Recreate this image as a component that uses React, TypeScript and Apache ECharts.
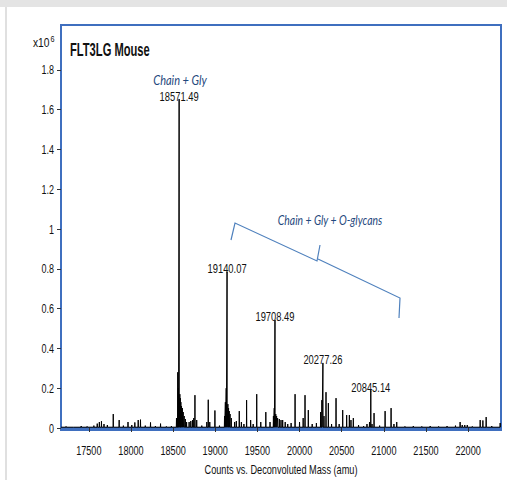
import React, { useEffect, useRef } from "react";
import * as echarts from "echarts";

// ---- data (y in units of 1e6 counts) ----
const peakMasses = [
  17230, 17320, 17410, 17480, 17560, 17600, 17625, 17650, 17680, 17720, 17790, 17860, 17910, 17965,
  18010, 18046, 18086, 18113, 18170, 18232, 18290, 18351, 18420, 18480,
  18540, 18555, 18562, 18580, 18586, 18592, 18600, 18610, 18620, 18632, 18645, 18660,
  18690, 18710, 18730, 18745, 18759, 18780, 18840, 18900, 18917, 18935, 18996, 19050,
  19110, 19120, 19130, 19150, 19158, 19166, 19176, 19190, 19230, 19250, 19285, 19310, 19340,
  19372, 19420, 19450, 19492, 19540, 19600, 19650, 19690, 19700,
  19718, 19728, 19740, 19760, 19780, 19800, 19830, 19860, 19900, 19947, 20000, 20043, 20065, 20104,
  20150, 20200, 20250, 20265, 20290, 20314, 20342, 20380, 20433, 20470, 20512, 20559, 20591, 20610, 20638,
  20700, 20760, 20800, 20830, 20860, 20884, 20950, 21015, 21086, 21120, 21153, 21250, 21350, 21450,
  21550, 21650, 21750, 21850, 21905, 21930, 21960, 21990, 22050, 22143, 22175, 22214, 22280, 22380,
];
const peakHeights = [
  0.008, 0.006, 0.01, 0.008, 0.012, 0.022, 0.03, 0.034, 0.02, 0.015, 0.07, 0.04, 0.012, 0.03,
  0.015, 0.028, 0.04, 0.042, 0.012, 0.028, 0.01, 0.022, 0.008, 0.01,
  0.05, 0.28, 0.2, 0.17, 0.15, 0.13, 0.11, 0.1, 0.08, 0.06, 0.045, 0.03,
  0.03, 0.035, 0.04, 0.05, 0.165, 0.04, 0.012, 0.03, 0.142, 0.03, 0.088, 0.012,
  0.06, 0.13, 0.2, 0.12, 0.1, 0.085, 0.07, 0.05, 0.03, 0.035, 0.085, 0.03, 0.02,
  0.14, 0.04, 0.02, 0.17, 0.03, 0.08, 0.03, 0.06, 0.1,
  0.07, 0.06, 0.05, 0.045, 0.04, 0.04, 0.03, 0.02, 0.025, 0.17, 0.03, 0.05, 0.165, 0.09,
  0.02, 0.025, 0.08, 0.14, 0.06, 0.18, 0.125, 0.02, 0.15, 0.02, 0.09, 0.065, 0.065, 0.04, 0.05,
  0.015, 0.01, 0.02, 0.03, 0.02, 0.075, 0.012, 0.085, 0.1, 0.02, 0.03, 0.008, 0.01, 0.008,
  0.01, 0.008, 0.01, 0.012, 0.03, 0.015, 0.015, 0.015, 0.008, 0.04, 0.038, 0.055, 0.01, 0.025,
];
const labeledMasses = [18571.49, 19140.07, 19708.49, 20277.26, 20845.14];
const labeledHeights = [1.653, 0.785, 0.543, 0.327, 0.19];
const xTicks = [17500, 18000, 18500, 19000, 19500, 20000, 20500, 21000, 21500, 22000];
const yTicks = [0, 0.2, 0.4, 0.6, 0.8, 1, 1.2, 1.4, 1.6, 1.8];
const baseline = 0.004;

const SANS = '"Liberation Sans", Arial, sans-serif';
const BLUE_FRAME = "#3f6fbf";
const ANNOT_TEXT = "#1f497d";
const ANNOT_LINE = "#4f81bd";

function buildSpectrum(): number[][] {
  const all: number[][] = [];
  peakMasses.forEach((m, i) => all.push([m, peakHeights[i]]));
  labeledMasses.forEach((m, i) => all.push([m, labeledHeights[i]]));
  all.sort((a, b) => a[0] - b[0]);
  const out: number[][] = [[17170, baseline]];
  all.forEach(([m, h]) => {
    out.push([m - 2, baseline]);
    out.push([m, h]);
    out.push([m + 2, baseline]);
  });
  out.push([22390, baseline]);
  return out;
}

function txt(x: number, y: number, text: string, font: string, fill: string, align: string, sx: number) {
  return {
    type: "text",
    x,
    y,
    scaleX: sx,
    silent: true,
    z: 10,
    style: { text, font, fill, textAlign: align, textVerticalAlign: "middle" },
  };
}

export default function App() {
  const ref = useRef<HTMLDivElement>(null);
  useEffect(() => {
    if (!ref.current) return;
    const chart = echarts.init(ref.current, undefined, { renderer: "svg" });
    chart.setOption({
      animation: false,
      backgroundColor: "#ffffff",
      grid: {
        left: 61,
        right: 6,
        top: 25,
        bottom: 52,
        show: true,
        borderColor: BLUE_FRAME,
        borderWidth: 2,
        backgroundColor: "transparent",
      },
      xAxis: {
        type: "value",
        min: 17170,
        max: 22390,
        axisLine: { show: false },
        splitLine: { show: false },
        axisTick: { show: true, length: 4, lineStyle: { color: "#333" }, customValues: xTicks },
        axisLabel: { show: false },
      },
      yAxis: {
        type: "value",
        min: 0,
        max: 2.025,
        splitLine: { show: false },
        axisLine: { show: false },
        axisTick: { show: true, length: 4, lineStyle: { color: "#333" }, customValues: yTicks },
        axisLabel: { show: false },
      },
      series: [
        {
          type: "line",
          data: buildSpectrum(),
          showSymbol: false,
          symbol: "none",
          lineStyle: { color: "#000", width: 1 },
          silent: true,
          z: 3,
        },
      ],
    });

    const toPx = (v: number[]) => chart.convertToPixel({ gridIndex: 0 }, v) as number[];
    const y0 = toPx([17170, 0])[1];
    const graphics: any[] = [
      { type: "rect", shape: { x: 0, y: 0, width: 507, height: 7 }, style: { fill: "#e4e4e4" }, silent: true },
      { type: "rect", shape: { x: 5, y: 7, width: 2, height: 473 }, style: { fill: "#e0e0e0" }, silent: true },
      { type: "rect", shape: { x: 60, y: y0 + 1, width: 442, height: 2 }, style: { fill: BLUE_FRAME }, silent: true },
    ];
    // x tick labels
    xTicks.forEach((v) => {
      const p = toPx([v, 0]);
      graphics.push(txt(p[0], y0 + 22, String(v), "13px " + SANS, "#111", "center", 0.7));
    });
    // y tick labels
    yTicks.forEach((v) => {
      const p = toPx([17170, v]);
      graphics.push(txt(54, p[1], String(Number(v.toFixed(1))), "12.5px " + SANS, "#111", "right", 0.72));
    });
    // axis name
    graphics.push(txt(281, y0 + 41, "Counts vs. Deconvoluted Mass (amu)", "12.5px " + SANS, "#111", "center", 0.735));
    // peak labels
    labeledMasses.forEach((m, i) => {
      const p = toPx([m, labeledHeights[i]]);
      graphics.push(txt(p[0], p[1] - 3, m.toFixed(2), "12.5px " + SANS, "#111", "center", 0.75));
    });
    // multiplier and title
    graphics.push(txt(33, 43, "x10", "12.5px " + SANS, "#111", "left", 0.82));
    graphics.push(txt(50.5, 39, "6", "9px " + SANS, "#111", "left", 0.8));
    graphics.push(txt(70, 49, "FLT3LG Mouse", "bold 18px " + SANS, "#111", "left", 0.62));
    // annotations
    graphics.push(txt(180, 80, "Chain + Gly", "italic 13px Lato, sans-serif", ANNOT_TEXT, "center", 0.85));
    graphics.push(txt(330, 220, "Chain + Gly + O-glycans", "italic 13px Lato, sans-serif", ANNOT_TEXT, "center", 0.8));
    graphics.push({
      type: "polyline",
      shape: { points: [[231, 240], [235, 223], [317, 261], [320, 245]] },
      style: { stroke: ANNOT_LINE, lineWidth: 1.2, fill: "none" },
      silent: true,
    });
    graphics.push({
      type: "polyline",
      shape: { points: [[318, 259], [400, 298], [399, 318]] },
      style: { stroke: ANNOT_LINE, lineWidth: 1.2, fill: "none" },
      silent: true,
    });
    chart.setOption({ graphic: graphics });
    return () => chart.dispose();
  }, []);
  return (
    <div
      ref={ref}
      style={{ position: "fixed", left: 0, top: 0, width: 507, height: 480, background: "#fff" }}
    />
  );
}
